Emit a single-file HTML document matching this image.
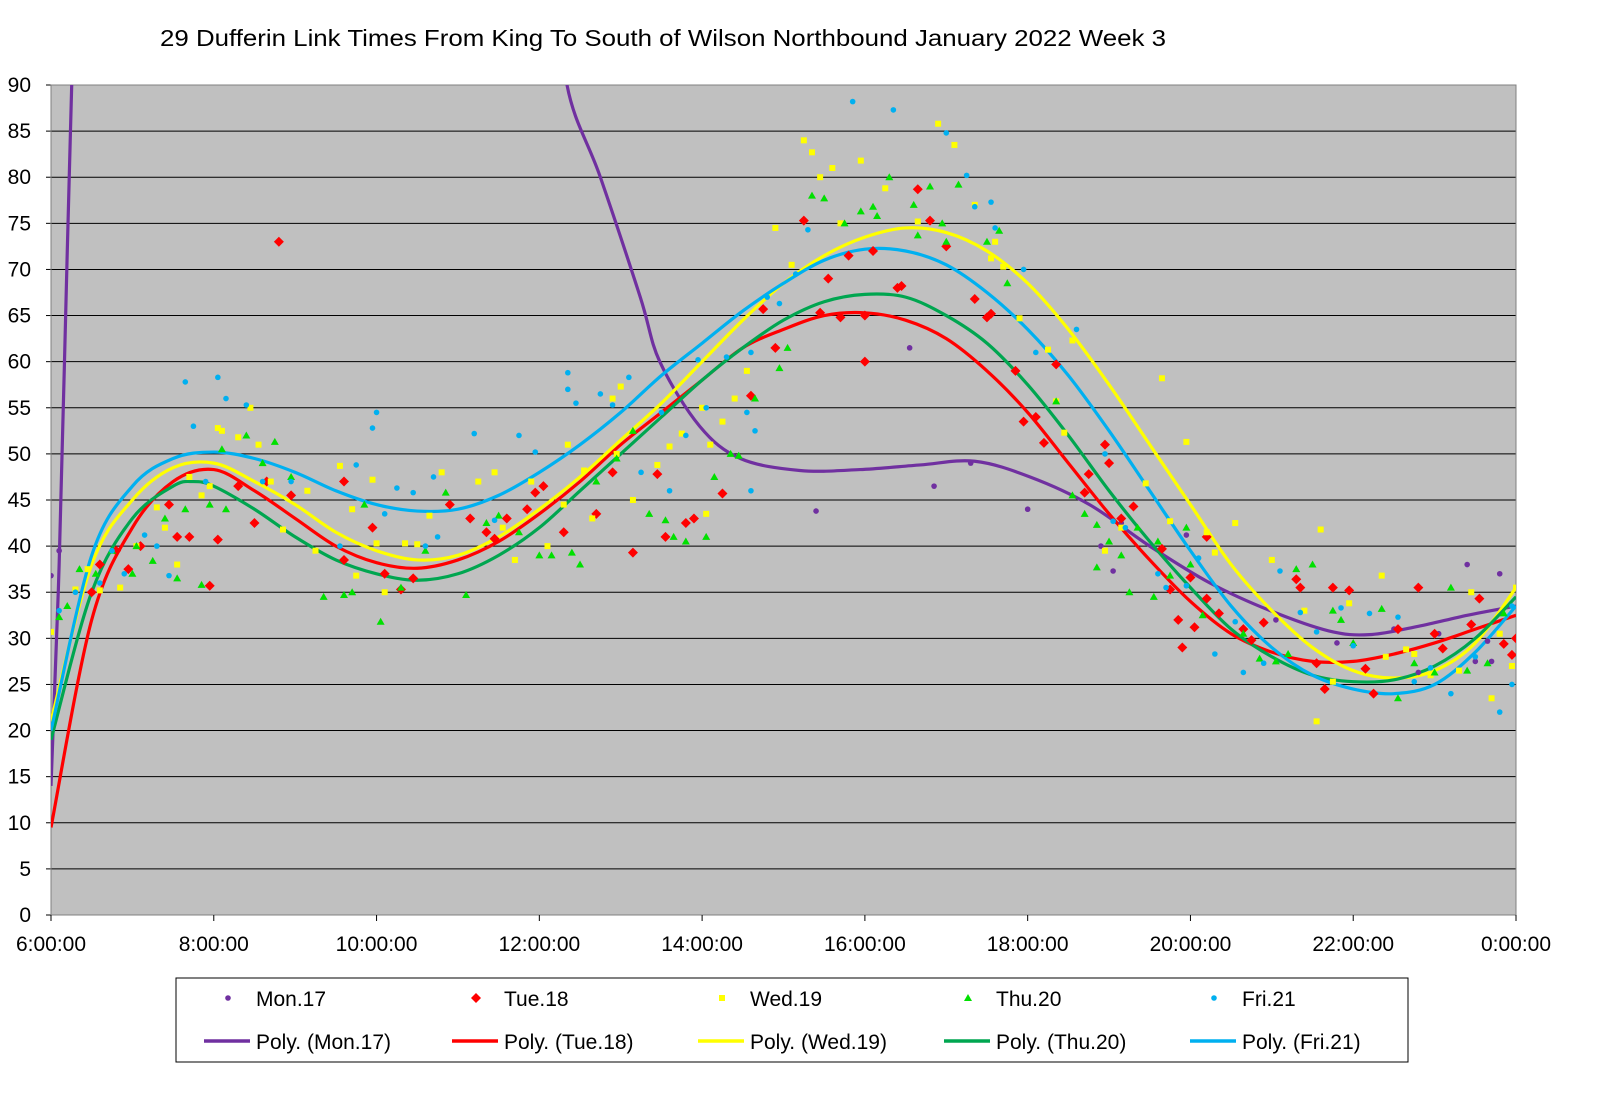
<!DOCTYPE html>
<html><head><meta charset="utf-8"><style>
body{margin:0;background:#fff;}
svg{display:block;font-family:"Liberation Sans",Arial,sans-serif;}
</style></head><body>
<svg id="chart" width="1604" height="1097">
<defs><clipPath id="plotclip"><rect x="51" y="85" width="1465" height="830"/></clipPath></defs>
<text x="160" y="46" font-size="23" textLength="1006" lengthAdjust="spacingAndGlyphs">29 Dufferin Link Times From King To South of Wilson Northbound January 2022  Week 3</text>
<rect x="51" y="85" width="1465" height="830" fill="#c0c0c0"/>
<g id="grid"></g><g id="axes"></g>
<g id="curves" clip-path="url(#plotclip)"></g>
<g id="points" clip-path="url(#plotclip)"></g>
<g id="legend"></g>
</svg>
<script>
const yTicks=[0,5,10,15,20,25,30,35,40,45,50,55,60,65,70,75,80,85,90];
const xTickHours=[6,8,10,12,14,16,18,20,22,24];
const xTickLabels=["6:00:00","8:00:00","10:00:00","12:00:00","14:00:00","16:00:00","18:00:00","20:00:00","22:00:00","0:00:00"];
const seriesNames=["Mon.17","Tue.18","Wed.19","Thu.20","Fri.21"];
const monPts=[6.0,36.8,6.1,39.5,15.4,43.8,16.55,61.5,16.85,46.5,17.3,49,18.0,44,18.9,40,19.05,37.3,19.15,42.5,19.95,41.2,21.05,32,21.8,29.5,22.5,31,22.8,26.3,23.05,30.5,23.4,38,23.5,27.5,23.65,29.7,23.7,27.5,23.8,37];
const tuePts=[6.5,35,6.6,38,6.8,39.5,6.95,37.5,7.1,40,7.45,44.5,7.55,41,7.7,41,7.95,35.7,8.05,40.7,8.3,46.5,8.5,42.5,8.65,47,8.8,73,8.95,45.5,9.6,47,9.6,38.5,9.95,42,10.1,37,10.3,35.3,10.45,36.5,10.9,44.5,11.15,43,11.35,41.5,11.45,40.8,11.6,43,11.85,44,11.95,45.8,12.05,46.5,12.3,41.5,12.7,43.5,12.9,48,13.15,39.3,13.45,47.8,13.55,41,13.8,42.5,13.9,43,14.25,45.7,14.6,56.3,14.75,65.7,14.9,61.5,15.25,75.3,15.45,65.3,15.55,69,15.7,64.8,15.8,71.5,16.0,65,16.0,60,16.1,72,16.4,68,16.45,68.2,16.65,78.7,16.8,75.3,17.0,72.5,17.35,66.8,17.5,64.8,17.55,65.2,17.85,59,17.95,53.5,18.1,54,18.2,51.2,18.35,59.7,18.7,45.8,18.75,47.8,18.95,51,19.0,49,19.15,43,19.3,44.3,19.65,39.7,19.75,35.3,19.85,32,19.9,29,20.0,36.6,20.05,31.2,20.2,41,20.2,34.3,20.35,32.7,20.65,31,20.75,29.8,20.9,31.7,21.3,36.4,21.35,35.5,21.55,27.3,21.65,24.5,21.75,35.5,21.95,35.2,22.15,26.7,22.25,24,22.55,31,22.8,35.5,23.0,30.5,23.1,28.9,23.45,31.5,23.55,34.3,23.85,29.4,24.0,30,23.95,28.2];
const wedPts=[6.0,30.7,6.3,35.3,6.45,37.5,6.6,35.2,6.85,35.5,7.05,40,7.3,44.2,7.4,42,7.55,38,7.7,47.5,7.85,45.5,7.95,46.5,8.05,52.8,8.1,52.5,8.3,51.8,8.45,55,8.55,51,8.7,47,8.85,41.8,9.15,46,9.25,39.5,9.55,48.7,9.7,44,9.75,36.8,9.95,47.2,10.0,40.3,10.1,35,10.35,40.3,10.5,40.2,10.65,43.3,10.8,48,11.25,47,11.45,48,11.55,42,11.7,38.5,11.9,47,12.1,40,12.3,44.5,12.35,51,12.55,48.2,12.65,43,12.9,56,12.95,50,13.0,57.3,13.15,45,13.45,48.8,13.6,50.8,13.75,52.2,14.0,55,14.05,43.5,14.1,51,14.25,53.5,14.4,56,14.55,59,14.9,74.5,15.1,70.5,15.25,84,15.35,82.7,15.45,80,15.6,81,15.7,75,15.95,81.8,16.25,78.8,16.65,75.2,16.9,85.8,17.1,83.5,17.35,77,17.55,71.2,17.6,73,17.7,70.3,17.9,64.7,18.25,61.3,18.35,55.7,18.45,52.3,18.55,62.3,18.95,39.5,19.15,42,19.45,46.8,19.65,58.2,19.75,42.7,19.95,51.3,20.2,41.5,20.3,39.3,20.55,42.5,21.0,38.5,21.4,33,21.55,21,21.6,41.8,21.75,25.3,21.95,33.8,22.35,36.8,22.4,28,22.65,28.8,22.75,28.3,22.95,26,23.3,26.5,23.45,35,23.7,23.5,23.8,30.5,23.95,27,24.0,35.5];
const thuPts=[6.1,32.3,6.2,33.5,6.35,37.5,6.55,37,6.75,39.5,7.0,37,7.05,40,7.25,38.4,7.4,43,7.55,36.5,7.65,44,7.85,35.8,7.95,44.5,8.1,50.5,8.15,44,8.4,52,8.6,49,8.75,51.3,8.95,47.5,9.35,34.5,9.6,34.7,9.7,35,9.85,44.5,10.05,31.8,10.3,35.5,10.6,39.5,10.85,45.8,11.1,34.7,11.35,42.5,11.5,43.3,11.75,41.5,12.0,39,12.15,39,12.4,39.3,12.5,38,12.7,47,12.95,49.5,13.15,52.5,13.35,43.5,13.55,42.8,13.65,41,13.8,40.5,14.05,41,14.15,47.5,14.35,50,14.45,49.8,14.65,56,14.95,59.3,15.05,61.5,15.35,78,15.5,77.7,15.75,75,15.95,76.3,16.1,76.8,16.15,75.8,16.3,80,16.6,77,16.65,73.7,16.8,79,16.95,75,17.0,73,17.15,79.2,17.5,73,17.65,74.2,17.75,68.5,18.35,55.7,18.55,45.5,18.7,43.5,18.85,37.7,18.85,42.3,19.0,40.5,19.15,39,19.25,35,19.35,42,19.55,34.5,19.6,40.5,19.75,36.8,19.95,42,20.0,38,20.15,32.5,20.65,30.5,20.85,27.8,21.05,27.5,21.2,28.3,21.3,37.5,21.5,38,21.75,33,21.85,32,22.0,29.5,22.35,33.2,22.55,23.5,22.75,27.3,23.0,26.3,23.2,35.5,23.4,26.5,23.65,27.3,23.85,32.7];
const friPts=[6.1,33,6.3,35,6.6,36,6.75,39.5,6.9,37,7.15,41.2,7.3,40,7.45,36.8,7.65,57.8,7.75,53,7.9,47,8.05,58.3,8.15,56,8.4,55.3,8.6,47,8.95,47,9.55,40,9.75,48.8,9.95,52.8,10.0,54.5,10.1,43.5,10.25,46.3,10.45,45.8,10.6,40,10.7,47.5,10.75,41,11.2,52.2,11.45,42.8,11.75,52,11.95,50.2,12.35,58.8,12.35,57,12.45,55.5,12.75,56.5,12.9,55.3,13.1,58.3,13.25,48,13.5,54.5,13.6,46,13.8,52,13.95,60.2,14.05,55,14.3,60.5,14.55,54.5,14.6,46,14.65,52.5,14.6,61,14.8,67,14.95,66.3,15.15,69.5,15.3,74.3,15.85,88.2,16.35,87.3,17.0,84.8,17.25,80.2,17.35,76.8,17.55,77.3,17.6,74.5,17.95,70,18.1,61,18.6,63.5,18.95,50,19.05,42.7,19.2,42,19.6,37,19.7,35.5,19.95,35.7,20.1,38.7,20.3,28.3,20.55,31.8,20.65,26.3,20.9,27.3,21.1,37.3,21.35,32.8,21.55,30.7,21.85,33.3,22.0,29.2,22.2,32.7,22.55,32.3,22.75,25.3,22.95,26.8,23.2,24,23.5,28,23.8,22,23.95,25,23.95,33.5];
const monTrend=[6,14,6.1,38,6.2,72,6.3,105,null,12.2,105,12.34,90,12.75,80,13.24,67,13.48,60,13.97,53,14.47,49.5,15.2,48.2,15.94,48.3,16.68,48.8,17.35,49.2,18.03,47.5,18.76,44.5,19.5,40,20.24,36,20.98,33,21.7,30.8,22.2,30.4,22.8,31.3,23.4,32.5,24,33.5];
const tueTrend=[6,9.5,6.5,32,7,42,7.5,47,8,48.3,8.5,46,9,43,9.5,40,10,38.2,10.5,37.6,11,38.5,11.5,40.5,12,43.5,12.5,47,13,51,13.5,54.5,14,58,14.5,61.5,15,63.5,15.5,65,16,65.3,16.5,64.5,17,62.5,17.5,59,18,54.5,18.5,49,19,43.5,19.5,38.5,20,34,20.5,30.5,21,28.5,21.5,27.5,22,27.5,22.5,28.3,23,29.5,23.5,31,24,32.5];
const wedTrend=[6,21,6.5,38,7,45,7.5,48.5,8,49,8.5,47,9,44.5,9.5,41.5,10,39.5,10.5,38.5,11,39,11.5,41,12,44,12.5,47.5,13,51.5,13.5,55.5,14,60,14.5,64.5,15,68.5,15.5,71.5,16,73.5,16.5,74.5,17,74,17.5,72,18,68.5,18.5,63.5,19,57.5,19.5,51,20,44.5,20.5,38,21,33,21.5,29,22,26.5,22.5,25.7,23,26.5,23.5,29.5,24,35.5];
const thuTrend=[6,19,6.5,35,7,43,7.5,46.5,7.75,47,8,46.5,8.5,44,9,41,9.5,38.5,10,37,10.5,36.3,11,37,11.5,39,12,42,12.5,46,13,50,13.5,54,14,58,14.5,61.5,15,64.5,15.5,66.5,16,67.3,16.5,67,17,65,17.5,62,18,57.5,18.5,52,19,46,19.5,40.5,20,35.5,20.5,31,21,28,21.5,26,22,25.3,22.5,25.5,23,27,23.5,30,24,34.5];
const friTrend=[6,20,6.5,39,7,46.5,7.5,49.5,8,50.2,8.5,49.5,9,48,9.5,46,10,44.5,10.5,43.8,11,44,11.5,45.5,12,48,12.5,51,13,54.5,13.5,58.5,14,62,14.5,65.5,15,68.5,15.5,71,16,72.2,16.5,72,17,70.5,17.5,67.5,18,63.5,18.5,58.5,19,52.5,19.5,46,20,39.5,20.5,33.5,21,29,21.5,26,22,24.5,22.5,24,23,25,23.5,28.5,24,33.5];

const NS="http://www.w3.org/2000/svg";
const X0=51,X1=1516,Y0=915,Y1=85;
const xs=h=>X0+(h-6)/18*(X1-X0);
const ys=v=>Y0-v/90*(Y0-Y1);
function mk(tag,attrs,parent){const e=document.createElementNS(NS,tag);for(const k in attrs)e.setAttribute(k,attrs[k]);parent.appendChild(e);return e;}
const grid=document.getElementById('grid'),axes=document.getElementById('axes');
yTicks.forEach(v=>{
  const l=mk('line',{x1:X0,x2:X1,y1:ys(v),y2:ys(v),stroke:'#000','stroke-width':1},grid);
  
  
  const t=mk('text',{x:X0-20,y:ys(v)+7,'font-size':21,'text-anchor':'end'},axes);
  t.textContent=v;
  
  
  mk('line',{x1:X0-5,x2:X0,y1:ys(v),y2:ys(v),stroke:'#000'},axes);
});
mk('line',{x1:X0,x2:X0,y1:Y1,y2:Y0,stroke:'#000'},axes);
mk('line',{x1:X0,x2:X1,y1:Y0,y2:Y0,stroke:'#000'},axes);
mk('rect',{x:X0,y:Y1,width:X1-X0,height:Y0-Y1,fill:'none',stroke:'#808080'},axes);
xTickHours.forEach((h,i)=>{
  mk('line',{x1:xs(h),x2:xs(h),y1:Y0,y2:Y0+6,stroke:'#000'},axes);
  const t=mk('text',{x:xs(h),y:Y0+36,'font-size':21,'text-anchor':'middle'},axes);
  t.textContent=xTickLabels[i];
  
  
});
function curvePath(arr){
  const segs=[];let cur=[];
  for(let i=0;i<arr.length;){ if(arr[i]===null){segs.push(cur);cur=[];i++;continue;} cur.push([xs(arr[i]),ys(arr[i+1])]);i+=2;}
  segs.push(cur);
  let d='';
  segs.forEach(p=>{
    d+='M'+p[0][0]+','+p[0][1];
    for(let i=0;i<p.length-1;i++){
      const p0=p[Math.max(i-1,0)],p1=p[i],p2=p[i+1],p3=p[Math.min(i+2,p.length-1)];
      const c1=[p1[0]+(p2[0]-p0[0])/6,p1[1]+(p2[1]-p0[1])/6];
      const c2=[p2[0]-(p3[0]-p1[0])/6,p2[1]-(p3[1]-p1[1])/6];
      d+='C'+c1+' '+c2+' '+p2;
    }
  });
  return d;
}
const curves=document.getElementById('curves'),points=document.getElementById('points');
const ptColors=['#7030a0','#ff0000','#ffff00','#00e000','#00b0f0'];
const lnColors=['#7030a0','#ff0000','#ffff00','#00a650','#00b0f0'];
const shapes=['circle','diamond','square','triangle','circle'];
function marker(shape,x,y,c,parent){
  if(shape==='circle')return mk('circle',{cx:x,cy:y,r:2.8,fill:c},parent);
  if(shape==='diamond')return mk('polygon',{points:`${x},${y-5} ${x+5},${y} ${x},${y+5} ${x-5},${y}`,fill:c},parent);
  if(shape==='square')return mk('rect',{x:x-3,y:y-3,width:6,height:6,fill:c},parent);
  return mk('polygon',{points:`${x},${y-4} ${x+4},${y+3} ${x-4},${y+3}`,fill:c},parent);
}
const allPts=[monPts,tuePts,wedPts,thuPts,friPts];
const allTr=[monTrend,tueTrend,wedTrend,thuTrend,friTrend];
const keys=['mon','tue','wed','thu','fri'];
allPts.forEach((arr,s)=>{
  for(let i=0;i<arr.length;i+=2){
    const m=marker(shapes[s],xs(arr[i]),ys(arr[i+1]),ptColors[s],points);
    
    
  }
});
allTr.forEach((arr,s)=>{
  const p=mk('path',{d:curvePath(arr),fill:'none',stroke:lnColors[s],'stroke-width':3.2},curves);
  
  
});
const lg=document.getElementById('legend');
mk('rect',{x:176,y:978,width:1232,height:84,fill:'#fff',stroke:'#000'},lg);
const lx=[228,476,722,968,1214];
seriesNames.forEach((n,s)=>{
  const m=marker(shapes[s],lx[s],998,ptColors[s],lg);
  
  
  const t=mk('text',{x:lx[s]+28,y:1006,'font-size':21},lg);
  t.textContent=n;
  
  
  const l=mk('line',{x1:lx[s]-24,x2:lx[s]+22,y1:1041,y2:1041,stroke:lnColors[s],'stroke-width':3.5},lg);
  
  
  const t2=mk('text',{x:lx[s]+28,y:1049,'font-size':21},lg);
  t2.textContent='Poly. ('+n+')';
  
  
});
</script>
</body></html>
